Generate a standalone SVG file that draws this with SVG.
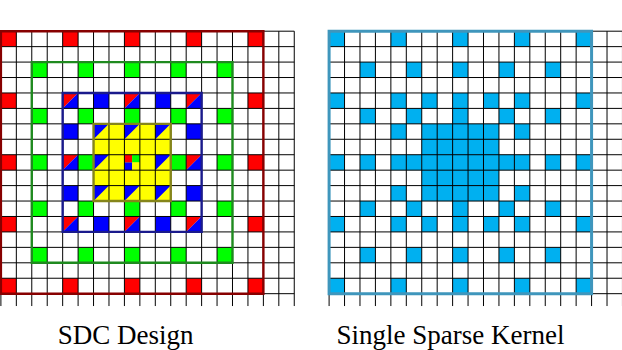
<svg xmlns="http://www.w3.org/2000/svg" width="622" height="350" viewBox="0 0 622 350">
<style>
.grid{fill:none;stroke:#000;stroke-width:1;vector-effect:non-scaling-stroke}
.box{fill:none;vector-effect:non-scaling-stroke}
.r{fill:#ff0000}.g{fill:#00ff00}.b{fill:#0000ff}.y{fill:#ffff00}.k{fill:#00b0f0}
.lbl{font-family:"Liberation Serif","Times New Roman",serif;font-size:27px;fill:#000;text-anchor:middle}
</style>
<defs>
<path id="gridlines" class="grid" d="M0 0H19M0 1H19M0 2H19M0 3H19M0 4H19M0 5H19M0 6H19M0 7H19M0 8H19M0 9H19M0 10H19M0 11H19M0 12H19M0 13H19M0 14H19M0 15H19M0 16H19M0 17H19M0 0V17.8M1 0V17.8M2 0V17.8M3 0V17.8M4 0V17.8M5 0V17.8M6 0V17.8M7 0V17.8M8 0V17.8M9 0V17.8M10 0V17.8M11 0V17.8M12 0V17.8M13 0V17.8M14 0V17.8M15 0V17.8M16 0V17.8M17 0V17.8M18 0V17.8M19 0V17.8"/>
</defs>
<g id="sdc-design" transform="translate(0.9 31.2) scale(15.44)">
  <g id="yellow-cells"><rect class="y" x="6" y="6" width="5" height="5"/></g>
  <g id="red-cells" class="r">
    <rect x="0" y="0" width="1" height="1"/><rect x="4" y="0" width="1" height="1"/><rect x="8" y="0" width="1" height="1"/><rect x="12" y="0" width="1" height="1"/><rect x="16" y="0" width="1" height="1"/>
    <rect x="0" y="4" width="1" height="1"/><rect x="16" y="4" width="1" height="1"/>
    <rect x="0" y="8" width="1" height="1"/><rect x="16" y="8" width="1" height="1"/>
    <rect x="0" y="12" width="1" height="1"/><rect x="16" y="12" width="1" height="1"/>
    <rect x="0" y="16" width="1" height="1"/><rect x="4" y="16" width="1" height="1"/><rect x="8" y="16" width="1" height="1"/><rect x="12" y="16" width="1" height="1"/><rect x="16" y="16" width="1" height="1"/>
  </g>
  <g id="green-cells" class="g">
    <rect x="2" y="2" width="1" height="1"/><rect x="5" y="2" width="1" height="1"/><rect x="8" y="2" width="1" height="1"/><rect x="11" y="2" width="1" height="1"/><rect x="14" y="2" width="1" height="1"/>
    <rect x="2" y="5" width="1" height="1"/><rect x="5" y="5" width="1" height="1"/><rect x="8" y="5" width="1" height="1"/><rect x="11" y="5" width="1" height="1"/><rect x="14" y="5" width="1" height="1"/>
    <rect x="2" y="8" width="1" height="1"/><rect x="5" y="8" width="1" height="1"/><rect x="11" y="8" width="1" height="1"/><rect x="14" y="8" width="1" height="1"/>
    <rect x="2" y="11" width="1" height="1"/><rect x="5" y="11" width="1" height="1"/><rect x="8" y="11" width="1" height="1"/><rect x="11" y="11" width="1" height="1"/><rect x="14" y="11" width="1" height="1"/>
    <rect x="2" y="14" width="1" height="1"/><rect x="5" y="14" width="1" height="1"/><rect x="8" y="14" width="1" height="1"/><rect x="11" y="14" width="1" height="1"/><rect x="14" y="14" width="1" height="1"/>
  </g>
  <g id="blue-cells" class="b">
    <rect x="6" y="4" width="1" height="1"/><rect x="10" y="4" width="1" height="1"/>
    <rect x="4" y="6" width="1" height="1"/><rect x="12" y="6" width="1" height="1"/>
    <rect x="4" y="10" width="1" height="1"/><rect x="12" y="10" width="1" height="1"/>
    <rect x="6" y="12" width="1" height="1"/><rect x="10" y="12" width="1" height="1"/>
  </g>
  <g id="red-blue-cells">
    <path class="r" d="M4 4h1L4 5zM8 4h1L8 5zM12 4h1L12 5zM4 8h1L4 9zM12 8h1L12 9zM4 12h1L4 13zM8 12h1L8 13zM12 12h1L12 13z"/>
    <path class="b" d="M5 4v1H4zM9 4v1H8zM13 4v1H12zM5 8v1H4zM13 8v1H12zM5 12v1H4zM9 12v1H8zM13 12v1H12z"/>
  </g>
  <g id="blue-yellow-cells">
    <path class="b" d="M6 6h1L6 7zM8 6h1L8 7zM10 6h1L10 7zM6 8h1L6 9zM10 8h1L10 9zM6 10h1L6 11zM8 10h1L8 11zM10 10h1L10 11z"/>
  </g>
  <g id="center-cell">
    <rect class="r" x="8" y="8" width="0.5" height="0.5"/>
    <rect class="g" x="8.5" y="8" width="0.5" height="0.5"/>
    <rect class="b" x="8" y="8.5" width="0.5" height="0.5"/>
    <rect class="y" x="8.5" y="8.5" width="0.5" height="0.5"/>
  </g>
  <use href="#gridlines"/>
  <rect id="red-box" class="box" x="0" y="0" width="17" height="17" stroke="#870000" stroke-width="2.4"/>
  <rect id="green-box" class="box" x="2" y="2" width="13" height="13" stroke="#1f8a1f" stroke-width="2.4"/>
  <rect id="blue-box" class="box" x="4" y="4" width="9" height="9" stroke="#1a1a8c" stroke-width="2.4"/>
  <rect id="yellow-box" class="box" x="6" y="6" width="5" height="5" stroke="#85851a" stroke-width="2.4"/>
</g>
<g id="single-sparse-kernel" transform="translate(329.1 31.2) scale(15.44)">
  <g id="kernel-cells" class="k">
    <rect x="0" y="0" width="1" height="1"/><rect x="4" y="0" width="1" height="1"/><rect x="8" y="0" width="1" height="1"/><rect x="12" y="0" width="1" height="1"/><rect x="16" y="0" width="1" height="1"/>
    <rect x="2" y="2" width="1" height="1"/><rect x="5" y="2" width="1" height="1"/><rect x="8" y="2" width="1" height="1"/><rect x="11" y="2" width="1" height="1"/><rect x="14" y="2" width="1" height="1"/>
    <rect x="0" y="4" width="1" height="1"/><rect x="4" y="4" width="1" height="1"/><rect x="6" y="4" width="1" height="1"/><rect x="8" y="4" width="1" height="1"/><rect x="10" y="4" width="1" height="1"/><rect x="12" y="4" width="1" height="1"/><rect x="16" y="4" width="1" height="1"/>
    <rect x="2" y="5" width="1" height="1"/><rect x="5" y="5" width="1" height="1"/><rect x="8" y="5" width="1" height="1"/><rect x="11" y="5" width="1" height="1"/><rect x="14" y="5" width="1" height="1"/>
    <rect x="4" y="6" width="1" height="1"/><rect x="6" y="6" width="5" height="5"/><rect x="12" y="6" width="1" height="1"/>
    <rect x="0" y="8" width="1" height="1"/><rect x="2" y="8" width="1" height="1"/><rect x="4" y="8" width="2" height="1"/><rect x="11" y="8" width="2" height="1"/><rect x="14" y="8" width="1" height="1"/><rect x="16" y="8" width="1" height="1"/>
    <rect x="4" y="10" width="1" height="1"/><rect x="12" y="10" width="1" height="1"/>
    <rect x="2" y="11" width="1" height="1"/><rect x="5" y="11" width="1" height="1"/><rect x="8" y="11" width="1" height="1"/><rect x="11" y="11" width="1" height="1"/><rect x="14" y="11" width="1" height="1"/>
    <rect x="0" y="12" width="1" height="1"/><rect x="4" y="12" width="1" height="1"/><rect x="6" y="12" width="1" height="1"/><rect x="8" y="12" width="1" height="1"/><rect x="10" y="12" width="1" height="1"/><rect x="12" y="12" width="1" height="1"/><rect x="16" y="12" width="1" height="1"/>
    <rect x="2" y="14" width="1" height="1"/><rect x="5" y="14" width="1" height="1"/><rect x="8" y="14" width="1" height="1"/><rect x="11" y="14" width="1" height="1"/><rect x="14" y="14" width="1" height="1"/>
    <rect x="0" y="16" width="1" height="1"/><rect x="4" y="16" width="1" height="1"/><rect x="8" y="16" width="1" height="1"/><rect x="12" y="16" width="1" height="1"/><rect x="16" y="16" width="1" height="1"/>
  </g>
  <use href="#gridlines"/>
  <rect id="kernel-box" class="box" x="0" y="0" width="17" height="17" stroke="#3f96bc" stroke-width="3"/>
</g>
<g id="labels">
  <text class="lbl" x="125.7" y="344">SDC Design</text>
  <text class="lbl" x="450.5" y="344">Single Sparse Kernel</text>
</g>
</svg>
